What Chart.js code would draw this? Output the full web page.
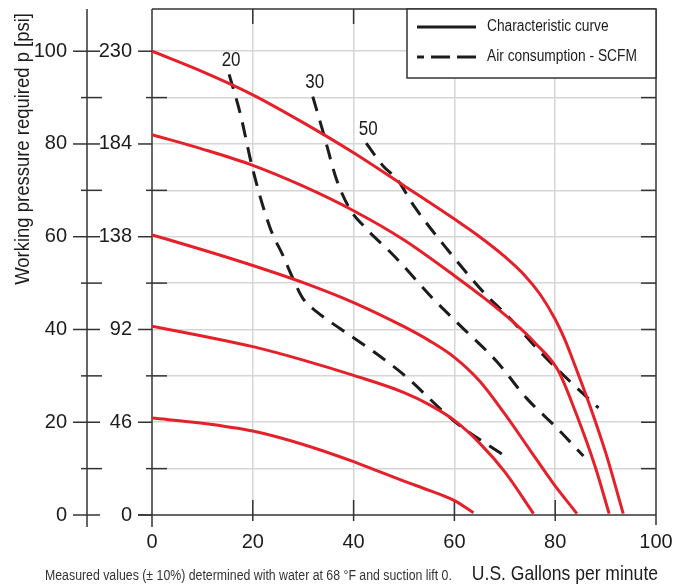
<!DOCTYPE html>
<html>
<head>
<meta charset="utf-8">
<script src="https://cdn.jsdelivr.net/npm/chart.js@4.4.1/dist/chart.umd.min.js"></script>
<style>
  html, body { margin: 0; background: #fff; }
  canvas { display: block; }
</style>
</head>
<body>
<canvas id="pumpChart" width="678" height="585"></canvas>
<script>
// pump performance: flow (US gpm) vs working pressure (psi)
const FONT = "'Liberation Sans', Arial, sans-serif";
const RED = '#e6202a';
const DARK = '#1c1c1c';
const AXIS = '#333';
const GRID = '#d6d6d6';

// tick labels
const gpmTicks = [0, 20, 40, 60, 80, 100];
const psiTicks = [0, 20, 40, 60, 80, 100];
const headTicks = ['0', '46', '92', '138', '184', '230'];
const yTickValues = [0, 10, 20, 30, 40, 50, 60, 70, 80, 90, 100];

// characteristic curves [gpm, psi]
const curve100 = [[0, 100], [10, 95.6], [20, 90.6], [30, 84.6], [40, 78.1], [50, 71], [60, 63.8], [65, 60], [70, 55.7], [74, 51.6], [77, 47.6], [80, 42.2], [82, 37.6], [84, 32], [87, 23.2], [90, 13.5], [93.5, 0.3]];
const curve82 = [[0, 82], [10, 78.9], [20, 75.4], [30, 70.9], [40, 65.6], [50, 59.3], [60, 51.6], [66, 46.7], [72, 41.3], [76, 37.1], [80.5, 31.3], [84, 22.3], [88, 10.2], [90.7, 0.3]];
const curve60 = [[0, 60.4], [10, 57.2], [20, 53.8], [30, 50.1], [40, 45.8], [50, 40.6], [55, 37.6], [60, 34], [65, 28.9], [70, 21.8], [75, 14], [79.5, 7], [84.3, 0.3]];
const curve40 = [[0, 40.7], [10, 38.6], [20, 36.3], [30, 33.4], [40, 30.1], [50, 26.4], [55, 23.8], [60, 20.4], [65, 15.5], [70, 9.3], [75.7, 0.3]];
const curve20 = [[0, 20.9], [10, 19.8], [20, 18.1], [30, 15.2], [40, 11.5], [45, 9.4], [50, 7.3], [55, 5.3], [60, 3.1], [63.8, 0.5]];

// air consumption SCFM
const scfmLabels = ['20', '30', '50'];
const air20 = [[15.3, 95], [17.5, 86.6], [20, 74.5], [23.4, 62], [26, 55.9], [28, 50.9], [30, 46.6], [32.7, 43.8], [37.3, 40.2], [44, 35.2], [50, 30.2], [60, 20.2], [70, 12.7]];
const air30 = [[31.9, 90.2], [34, 82.4], [36.6, 72.4], [39.3, 65.9], [42, 62.3], [48, 55.9], [55.8, 46.6], [61.1, 40.9], [68.4, 33.1], [74.3, 25.2], [80.3, 18.8], [85.6, 12.7]];
const air50 = [[42.5, 80.2], [45.9, 75.2], [48.6, 72.4], [52, 66.6], [58.5, 57.4], [66.4, 47.3], [70.4, 43.1], [77, 35.2], [83.6, 28.1], [88.6, 23.1]];

const toXY = pts => pts.map(([x, y]) => ({ x, y }));

const redSets = [curve100, curve82, curve60, curve40, curve20].map(c => ({
  label: 'Characteristic curve',
  data: toXY(c),
  borderColor: RED,
  borderWidth: 3,
  pointRadius: 0,
  cubicInterpolationMode: 'monotone'
}));
const airSets = [air20, air30, air50].map((c, i) => ({
  label: scfmLabels[i],
  data: toXY(c),
  borderColor: DARK,
  borderWidth: 3,
  borderDash: [15, 10],
  pointRadius: 0,
  cubicInterpolationMode: 'monotone'
}));

// narrow text: the original uses a condensed face
function narrowText(ctx, str, x, y, size, align, sx, rot) {
  ctx.save();
  ctx.translate(x, y);
  if (rot) ctx.rotate(rot);
  ctx.scale(sx, 1);
  ctx.font = size + 'px ' + FONT;
  ctx.textAlign = align;
  ctx.textBaseline = 'middle';
  ctx.fillText(str, 0, 0);
  ctx.restore();
}

const noPad = s => { s.paddingTop = 0; s.paddingBottom = 0; s.paddingLeft = 0; s.paddingRight = 0; };

const frame = {
  id: 'frame',
  beforeDatasetsDraw(chart) {
    const { ctx, chartArea: a, scales: { x, y, yP } } = chart;
    const line = (x1, y1, x2, y2) => { ctx.beginPath(); ctx.moveTo(x1, y1); ctx.lineTo(x2, y2); ctx.stroke(); };
    ctx.save();
    ctx.strokeStyle = AXIS;
    ctx.lineWidth = 1.5;
    line(a.left, a.top, a.right, a.top);
    line(a.right, a.top, a.right, a.bottom + 10);
    line(a.left - 14, a.bottom, a.right, a.bottom);
    line(a.left, a.top, a.left, a.bottom + 12);
    line(yP.right, a.top, yP.right, a.bottom + 12);
    yTickValues.forEach(v => {
      const py = y.getPixelForValue(v);
      if (v % 20 === 0) {
        line(a.left - 14, py, a.left, py);
        line(yP.right - 14, py, yP.right + 13, py);
      } else {
        line(a.left - 6, py, a.left + 15, py);
        line(yP.right - 6, py, yP.right + 15, py);
      }
      if (v > 0) line(a.right - 15, py, a.right, py);
    });
    gpmTicks.slice(1, -1).forEach(v => {
      const px = x.getPixelForValue(v);
      line(px, a.bottom - 15, px, a.bottom + 6);
      line(px, a.top, px, a.top + 15);
    });
    ctx.restore();
  },
  afterDatasetsDraw(chart) {
    const { ctx, chartArea: a, scales: { x, y } } = chart;
    ctx.save();
    ctx.fillStyle = DARK;
    // SCFM labels at the start of each dashed line
    [air20, air30, air50].forEach((c, i) => {
      narrowText(ctx, scfmLabels[i], x.getPixelForValue(c[0][0]) + 2, y.getPixelForValue(c[0][1]) - 14, 20, 'center', 0.85);
    });
    // legend box
    const bx = a.right - 249, by = a.top, bw = 249, bh = 69;
    ctx.fillStyle = '#fff';
    ctx.fillRect(bx, by, bw, bh);
    ctx.strokeStyle = AXIS;
    ctx.lineWidth = 1.5;
    ctx.strokeRect(bx, by, bw, bh);
    ctx.strokeStyle = DARK;
    ctx.lineWidth = 3;
    ctx.beginPath(); ctx.moveTo(bx + 10, by + 18); ctx.lineTo(bx + 69, by + 18); ctx.stroke();
    ctx.setLineDash([19, 7]);
    ctx.beginPath(); ctx.moveTo(bx + 69, by + 48); ctx.lineTo(bx + 10, by + 48); ctx.stroke();
    ctx.setLineDash([]);
    ctx.fillStyle = DARK;
    narrowText(ctx, 'Characteristic curve', bx + 80, by + 18, 16, 'left', 0.86);
    narrowText(ctx, 'Air consumption - SCFM', bx + 80, by + 48, 16, 'left', 0.86);
    // axis titles + footnote
    narrowText(ctx, 'Working pressure required p [psi]', 23, 13, 21, 'right', 0.88, -Math.PI / 2);
    narrowText(ctx, 'U.S. Gallons per minute', a.right + 2, 574, 21, 'right', 0.835);
    ctx.fillStyle = '#333';
    narrowText(ctx, 'Measured values (\u00b1 10%) determined with water at 68 \u00b0F and suction lift 0.', 45, 576, 14, 'left', 0.88);
    ctx.restore();
  }
};

new Chart(document.getElementById('pumpChart'), {
  type: 'line',
  data: { datasets: [...redSets, ...airSets] },
  plugins: [frame],
  options: {
    responsive: false,
    animation: false,
    layout: { padding: { top: 9, right: 22, left: 0, bottom: 0 } },
    plugins: { legend: { display: false }, tooltip: { enabled: false } },
    scales: {
      x: {
        type: 'linear', min: 0, max: 100,
        afterBuildTicks: s => { s.ticks = gpmTicks.map(v => ({ value: v })); },
        afterFit: s => { s.height = 70; noPad(s); },
        grid: { color: c => (c.tick.value > 0 && c.tick.value < 100) ? GRID : 'transparent', lineWidth: 1.5, drawTicks: false },
        border: { display: false },
        ticks: { color: DARK, font: { family: FONT, size: 20 }, padding: 15, maxRotation: 0, autoSkip: false }
      },
      y: {
        type: 'linear', position: 'left', weight: 0, min: 0, max: 109.1,
        afterBuildTicks: s => { s.ticks = yTickValues.map(v => ({ value: v })); },
        afterFit: s => { s.width = 65; noPad(s); },
        grid: { color: c => c.tick.value > 0 ? GRID : 'transparent', lineWidth: 1.5, drawTicks: false },
        border: { display: false },
        ticks: {
          color: DARK, font: { family: FONT, size: 20 }, padding: 20, autoSkip: false,
          callback: v => (psiTicks.includes(v) ? headTicks[psiTicks.indexOf(v)] : '')
        }
      },
      yP: {
        type: 'linear', position: 'left', weight: 1, min: 0, max: 109.1,
        afterBuildTicks: s => { s.ticks = psiTicks.map(v => ({ value: v })); },
        afterFit: s => { s.width = 87; noPad(s); },
        grid: { drawOnChartArea: false, drawTicks: false },
        border: { display: false },
        ticks: { color: DARK, font: { family: FONT, size: 20 }, padding: 20, autoSkip: false }
      }
    }
  }
});
</script>
</body>
</html>
